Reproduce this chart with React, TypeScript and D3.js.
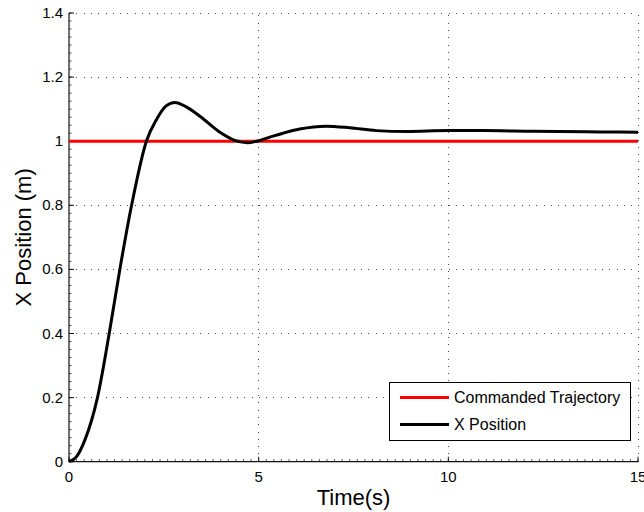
import React from "react";
import * as d3 from "d3";

// Step response of the X position versus the commanded trajectory
const timeS = [0, 0.2, 0.42, 0.75, 1.06, 1.34, 1.65, 2.04, 2.3, 2.56, 2.79, 3.08, 3.45, 4.0, 4.33, 4.7, 4.95, 5.38, 5.64, 6.08, 6.78, 7.4, 8.1, 8.9, 10.0, 10.9, 12.2, 14.0, 15.0];
const xPosition = [0, 0.016, 0.068, 0.2, 0.4, 0.6, 0.8, 1.0, 1.066, 1.11, 1.121, 1.108, 1.078, 1.026, 1.004, 0.995, 1.0, 1.016, 1.025, 1.038, 1.047, 1.042, 1.033, 1.03, 1.033, 1.033, 1.031, 1.029, 1.028];
const commandedTime = [0, 15];
const commandedValue = [1, 1];

const xTicks = [0, 5, 10, 15];
const yTicks = [0, 0.2, 0.4, 0.6, 0.8, 1, 1.2, 1.4];
const yTickLabels = ["0", "0.2", "0.4", "0.6", "0.8", "1", "1.2", "1.4"];
const legendLabels = ["Commanded Trajectory", "X Position"];
const seriesColors = ["#ff0000", "#000000"];

const W = 644;
const H = 512;
const left = 69;
const right = 638;
const top = 13;
const bottom = 461.7;
const font = "'Liberation Sans', Arial, Helvetica, sans-serif";

export default function App() {
  const x = d3.scaleLinear().domain([0, 15]).range([left, right]);
  const y = d3.scaleLinear().domain([0, 1.4]).range([bottom, top]);

  const line = d3
    .line<[number, number]>()
    .x((d) => x(d[0]))
    .y((d) => y(d[1]))
    .curve(d3.curveMonotoneX);

  const respPts: [number, number][] = timeS.map((t, i) => [t, xPosition[i]]);
  const cmdPts: [number, number][] = commandedTime.map((t, i) => [t, commandedValue[i]]);

  const xMinor = d3.range(0, 15.001, 0.2);
  const yMinor = d3.range(0, 1.4001, 0.025);

  const gridColor = "#444";

  return (
    <svg
      width={W}
      height={H}
      style={{ position: "fixed", left: 0, top: 0, background: "#fff" }}
      fontFamily={font}
    >
      <rect width={W} height={H} fill="#fff" />
      {/* dotted grid */}
      {yTicks.slice(1).map((v) => (
        <line
          key={"gy" + v}
          x1={left}
          x2={right}
          y1={y(v)}
          y2={y(v)}
          stroke={gridColor}
          strokeWidth={1}
          strokeDasharray="1,6.3"
          shapeRendering="crispEdges"
        />
      ))}
      {xTicks.slice(1).map((v) => (
        <line
          key={"gx" + v}
          x1={x(v)}
          x2={x(v)}
          y1={bottom}
          y2={top}
          stroke={gridColor}
          strokeWidth={1}
          strokeDasharray="1,6.3"
          shapeRendering="crispEdges"
        />
      ))}

      {/* minor ticks */}
      {xMinor.map((v, i) => (
        <line key={"xm" + i} x1={x(v)} x2={x(v)} y1={bottom} y2={bottom - 2.5} stroke="#222" strokeWidth={0.8} />
      ))}
      {yMinor.map((v, i) => (
        <line key={"ym" + i} x1={left} x2={left + 2.5} y1={y(v)} y2={y(v)} stroke="#222" strokeWidth={0.8} />
      ))}
      {/* major ticks */}
      {xTicks.map((v) => (
        <line key={"xt" + v} x1={x(v)} x2={x(v)} y1={bottom} y2={bottom - 5} stroke="#111" strokeWidth={1} />
      ))}
      {yTicks.map((v) => (
        <line key={"yt" + v} x1={left} x2={left + 5} y1={y(v)} y2={y(v)} stroke="#111" strokeWidth={1} />
      ))}

      {/* axes */}
      <line x1={left} x2={left} y1={top} y2={bottom} stroke="#111" strokeWidth={1.2} />
      <line x1={left} x2={right} y1={bottom} y2={bottom} stroke="#111" strokeWidth={1.2} />

      {/* tick labels */}
      {xTicks.map((v) => (
        <text key={"xl" + v} x={x(v)} y={482} fontSize={15} textAnchor="middle" fill="#000">
          {v}
        </text>
      ))}
      {yTicks.map((v, i) => (
        <text key={"yl" + v} x={63} y={y(v) + 5} fontSize={15} textAnchor="end" fill="#000">
          {yTickLabels[i]}
        </text>
      ))}

      {/* axis titles */}
      <text x={(left + right) / 2} y={505} fontSize={22} textAnchor="middle" fill="#000">
        Time(s)
      </text>
      <text
        transform={`translate(31, ${(top + bottom) / 2}) rotate(-90)`}
        fontSize={22}
        textAnchor="middle"
        fill="#000"
      >
        X Position (m)
      </text>

      {/* series */}
      <path d={line(cmdPts) || ""} fill="none" stroke={seriesColors[0]} strokeWidth={3} />
      <path d={line(respPts) || ""} fill="none" stroke={seriesColors[1]} strokeWidth={3} strokeLinejoin="round" />

      {/* legend */}
      <g>
        <rect x={389.5} y={382.5} width={241} height={58} fill="#fff" stroke="#000" strokeWidth={1} />
        {legendLabels.map((lab, i) => (
          <g key={lab}>
            <line x1={400} x2={449} y1={397.5 + i * 27} y2={397.5 + i * 27} stroke={seriesColors[i]} strokeWidth={3} />
            <text x={454} y={403} fontSize={16} dy={i * 27} fill="#000">
              {lab}
            </text>
          </g>
        ))}
      </g>
    </svg>
  );
}
